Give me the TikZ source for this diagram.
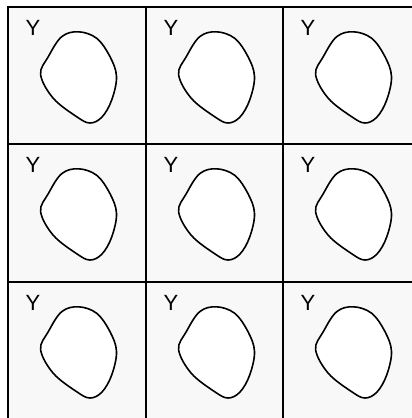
\documentclass[tikz,border=0pt]{standalone}
\usepackage{fontspec}
\setmainfont{Liberation Sans}
\definecolor{cellbg}{RGB}{248,248,248}
\begin{document}
\begin{tikzpicture}[x=1pt,y=-1pt,
  cellbox/.style={fill=cellbg,anchor=north west,inner sep=0pt,outer sep=0pt},
  gridline/.style={draw=black,line width=1.8pt},
  blob/.style={draw=black,line width=1.6pt,fill=white},
  ylabel/.style={anchor=base west,inner sep=0pt,font=\fontsize{22}{24}\selectfont}]
\useasboundingbox (0,0) rectangle (412,418);
\fill[white] (0,0) rectangle (412,418);
\foreach \cx/\w/\i in {8/138/1,146/137/2,283/137/3}{
  \foreach \cy/\h/\j in {7/137/1,144/138/2,282/137/3}{
    \node[cellbox,minimum width=\w pt,minimum height=\h pt] (c\i\j) at (\cx,\cy) {};
  }
}
\foreach \i in {1,2,3}{
  \foreach \j in {1,2,3}{
    \draw[gridline] (c\i\j.north west) rectangle (c\i\j.south east);
  }
}
\foreach \cx/\i in {8/1,146/2,283/3}{
  \foreach \cy/\j in {7/1,144/2,282/3}{
    \begin{scope}[shift={(\cx,\cy)}]
      \draw[blob] plot[smooth cycle,tension=0.6] coordinates {(70.5,24.8) (88.7,31.3) (102,49.7) (108.5,69.5) (103.7,93) (94,110) (82,116) (68.7,109.7) (45.3,91.3) (32.6,67.6) (40.3,49.7) (53.7,29.7)};
      \node[ylabel] (y\i\j) at (17.5,28.5) {Y};
    \end{scope}
  }
}
\end{tikzpicture}
\end{document}
